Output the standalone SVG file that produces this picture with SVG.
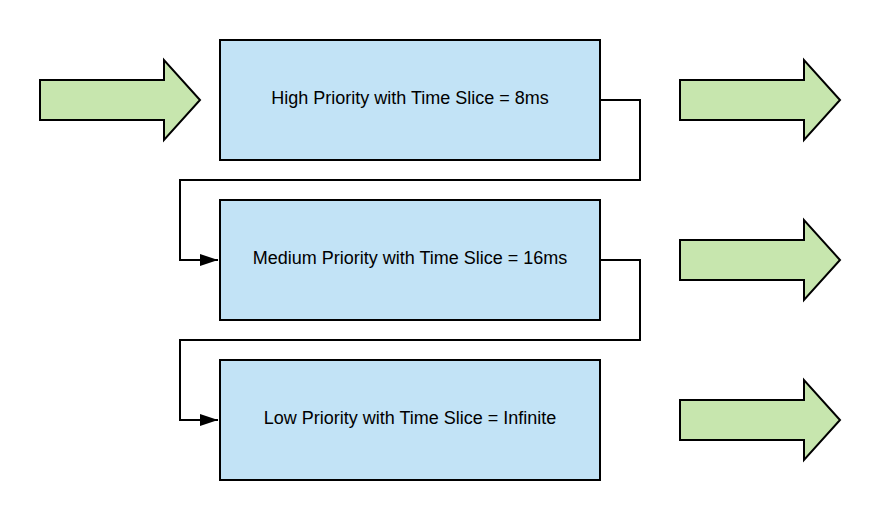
<svg xmlns="http://www.w3.org/2000/svg" width="880" height="520" viewBox="0 0 880 520">
<style>
.box{fill:#c2e3f6;stroke:#000;stroke-width:2}
.arr{fill:#c7e6ae;stroke:#000;stroke-width:2;stroke-linejoin:miter}
.lbl{font-family:"Liberation Sans",Arial,sans-serif;font-size:18px;fill:#000;text-anchor:middle;dominant-baseline:central}
.conn{fill:none;stroke:#000;stroke-width:2}
</style>
<defs>
<marker id="ah" markerWidth="18" markerHeight="12" refX="18" refY="6" orient="auto" markerUnits="userSpaceOnUse" viewBox="0 0 18 12">
<path d="M0,0 L18,6 L0,12 Z" fill="#000"/>
</marker>
</defs>
<rect width="880" height="520" fill="#fff"/>
<g id="arrow-in"><path class="arr" d="M40,80 H164 V60 L200,100 L164,140 V120 H40 Z"/></g>
<g id="arrow-out-1"><path class="arr" d="M680,80 H804 V60 L840,100 L804,140 V120 H680 Z"/></g>
<g id="arrow-out-2"><path class="arr" d="M680,240 H804 V220 L840,260 L804,300 V280 H680 Z"/></g>
<g id="arrow-out-3"><path class="arr" d="M680,400 H804 V380 L840,420 L804,460 V440 H680 Z"/></g>
<g id="high"><rect class="box" x="220" y="40" width="380" height="120"/><text class="lbl" x="410" y="98">High Priority with Time Slice = 8ms</text></g>
<g id="medium"><rect class="box" x="220" y="200" width="380" height="120"/><text class="lbl" x="410" y="258">Medium Priority with Time Slice = 16ms</text></g>
<g id="low"><rect class="box" x="220" y="360" width="380" height="120"/><text class="lbl" x="410" y="418">Low Priority with Time Slice = Infinite</text></g>
<g id="connectors">
<path class="conn" d="M600,100 H640 V180 H180 V260 H218" marker-end="url(#ah)"/>
<path class="conn" d="M600,260 H640 V340 H180 V420 H218" marker-end="url(#ah)"/>
</g>
</svg>
